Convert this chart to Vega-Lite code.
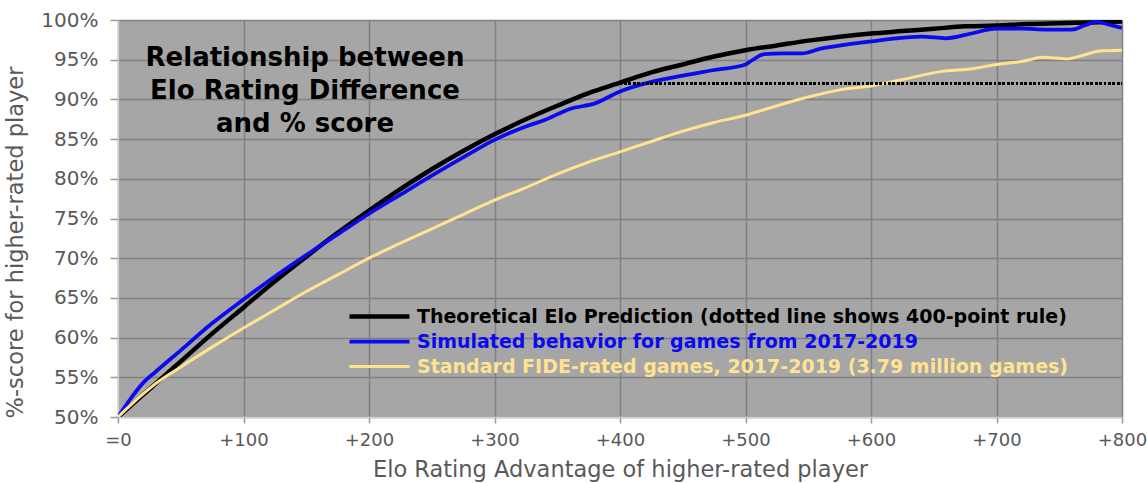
{
  "$schema": "https://vega.github.io/schema/vega-lite/v6.json",
  "width": 1004,
  "height": 397,
  "autosize": "none",
  "padding": {"left": 118, "top": 20, "right": 25, "bottom": 66},
  "background": "#ffffff",
  "config": {
    "font": "DejaVu Sans",
    "view": {"fill": "#a6a6a6", "stroke": null}
  },
  "title": {
    "text": ["Relationship between", "Elo Rating Difference", "and % score"],
    "anchor": "start",
    "frame": "group",
    "align": "center",
    "baseline": "top",
    "offset": 0,
    "dx": 187,
    "dy": 127,
    "fontSize": 26,
    "fontWeight": "bold",
    "lineHeight": 33,
    "color": "#000000",
    "font": "DejaVu Sans"
  },
  "data": {
    "values": [
      {"d": 0, "v": 0.5, "s": "T"}, {"d": 10, "v": 0.514, "s": "T"}, {"d": 25, "v": 0.535, "s": "T"}, {"d": 40, "v": 0.556, "s": "T"},
      {"d": 50, "v": 0.570, "s": "T"}, {"d": 75, "v": 0.605, "s": "T"}, {"d": 100, "v": 0.638, "s": "T"}, {"d": 125, "v": 0.671, "s": "T"},
      {"d": 150, "v": 0.702, "s": "T"}, {"d": 175, "v": 0.732, "s": "T"}, {"d": 200, "v": 0.760, "s": "T"}, {"d": 225, "v": 0.787, "s": "T"},
      {"d": 250, "v": 0.812, "s": "T"}, {"d": 275, "v": 0.835, "s": "T"}, {"d": 300, "v": 0.856, "s": "T"}, {"d": 325, "v": 0.875, "s": "T"},
      {"d": 350, "v": 0.892, "s": "T"}, {"d": 375, "v": 0.908, "s": "T"}, {"d": 400, "v": 0.921, "s": "T"}, {"d": 425, "v": 0.934, "s": "T"},
      {"d": 450, "v": 0.944, "s": "T"}, {"d": 475, "v": 0.954, "s": "T"}, {"d": 500, "v": 0.962, "s": "T"}, {"d": 525, "v": 0.968, "s": "T"},
      {"d": 550, "v": 0.974, "s": "T"}, {"d": 575, "v": 0.979, "s": "T"}, {"d": 600, "v": 0.983, "s": "T"}, {"d": 625, "v": 0.986, "s": "T"},
      {"d": 650, "v": 0.989, "s": "T"}, {"d": 675, "v": 0.992, "s": "T"}, {"d": 700, "v": 0.993, "s": "T"}, {"d": 725, "v": 0.995, "s": "T"},
      {"d": 750, "v": 0.996, "s": "T"}, {"d": 775, "v": 0.997, "s": "T"}, {"d": 800, "v": 0.998, "s": "T"},

      {"d": 0, "v": 0.5, "s": "S"}, {"d": 10, "v": 0.523, "s": "S"}, {"d": 20, "v": 0.543, "s": "S"}, {"d": 30, "v": 0.557, "s": "S"},
      {"d": 50, "v": 0.584, "s": "S"}, {"d": 75, "v": 0.618, "s": "S"}, {"d": 100, "v": 0.648, "s": "S"}, {"d": 125, "v": 0.677, "s": "S"},
      {"d": 150, "v": 0.704, "s": "S"}, {"d": 175, "v": 0.730, "s": "S"}, {"d": 200, "v": 0.756, "s": "S"}, {"d": 225, "v": 0.780, "s": "S"},
      {"d": 250, "v": 0.804, "s": "S"}, {"d": 275, "v": 0.827, "s": "S"}, {"d": 300, "v": 0.849, "s": "S"}, {"d": 325, "v": 0.866, "s": "S"},
      {"d": 340, "v": 0.874, "s": "S"}, {"d": 360, "v": 0.888, "s": "S"}, {"d": 380, "v": 0.895, "s": "S"}, {"d": 400, "v": 0.910, "s": "S"},
      {"d": 425, "v": 0.922, "s": "S"}, {"d": 450, "v": 0.930, "s": "S"}, {"d": 475, "v": 0.937, "s": "S"}, {"d": 500, "v": 0.944, "s": "S"},
      {"d": 505, "v": 0.949, "s": "S"}, {"d": 515, "v": 0.957, "s": "S"}, {"d": 530, "v": 0.958, "s": "S"}, {"d": 545, "v": 0.958, "s": "S"},
      {"d": 560, "v": 0.964, "s": "S"}, {"d": 580, "v": 0.969, "s": "S"}, {"d": 600, "v": 0.973, "s": "S"}, {"d": 620, "v": 0.977, "s": "S"},
      {"d": 640, "v": 0.979, "s": "S"}, {"d": 660, "v": 0.977, "s": "S"}, {"d": 680, "v": 0.983, "s": "S"}, {"d": 700, "v": 0.989, "s": "S"},
      {"d": 720, "v": 0.989, "s": "S"}, {"d": 740, "v": 0.988, "s": "S"}, {"d": 760, "v": 0.988, "s": "S"}, {"d": 770, "v": 0.993, "s": "S"},
      {"d": 780, "v": 0.998, "s": "S"}, {"d": 790, "v": 0.994, "s": "S"}, {"d": 800, "v": 0.990, "s": "S"},

      {"d": 0, "v": 0.5, "s": "F"}, {"d": 10, "v": 0.515, "s": "F"}, {"d": 20, "v": 0.529, "s": "F"}, {"d": 30, "v": 0.542, "s": "F"},
      {"d": 50, "v": 0.563, "s": "F"}, {"d": 75, "v": 0.588, "s": "F"}, {"d": 100, "v": 0.612, "s": "F"}, {"d": 125, "v": 0.635, "s": "F"},
      {"d": 150, "v": 0.658, "s": "F"}, {"d": 175, "v": 0.679, "s": "F"}, {"d": 200, "v": 0.700, "s": "F"}, {"d": 225, "v": 0.719, "s": "F"},
      {"d": 250, "v": 0.737, "s": "F"}, {"d": 275, "v": 0.755, "s": "F"}, {"d": 300, "v": 0.773, "s": "F"}, {"d": 325, "v": 0.789, "s": "F"},
      {"d": 350, "v": 0.806, "s": "F"}, {"d": 375, "v": 0.821, "s": "F"}, {"d": 400, "v": 0.834, "s": "F"}, {"d": 425, "v": 0.847, "s": "F"},
      {"d": 450, "v": 0.860, "s": "F"}, {"d": 475, "v": 0.871, "s": "F"}, {"d": 500, "v": 0.880, "s": "F"}, {"d": 525, "v": 0.892, "s": "F"},
      {"d": 550, "v": 0.903, "s": "F"}, {"d": 575, "v": 0.912, "s": "F"}, {"d": 600, "v": 0.917, "s": "F"}, {"d": 628, "v": 0.926, "s": "F"},
      {"d": 655, "v": 0.935, "s": "F"}, {"d": 682, "v": 0.939, "s": "F"}, {"d": 700, "v": 0.944, "s": "F"}, {"d": 721, "v": 0.948, "s": "F"},
      {"d": 737, "v": 0.953, "s": "F"}, {"d": 756, "v": 0.951, "s": "F"}, {"d": 770, "v": 0.956, "s": "F"}, {"d": 782, "v": 0.961, "s": "F"},
      {"d": 800, "v": 0.962, "s": "F"}
    ]
  },
  "layer": [
    {
      "mark": {"type": "line", "interpolate": "monotone", "clip": true},
      "encoding": {
        "x": {
          "field": "d", "type": "quantitative",
          "scale": {"domain": [0, 800], "nice": false},
          "axis": {
            "values": [0, 100, 200, 300, 400, 500, 600, 700, 800],
            "tickCount": 20,
            "labelExpr": "datum.value === 0 ? '=0' : '+' + datum.value",
            "title": "Elo Rating Advantage of higher-rated player",
            "titleFontSize": 22.5, "titleFontWeight": "normal", "titleColor": "#595959", "titlePadding": 9,
            "labelFontSize": 18, "labelColor": "#595959", "labelPadding": 8, "labelFlush": false, "labelOverlap": false,
            "tickSize": 6, "tickColor": "#9a9a9a", "tickWidth": 1.5,
            "domainColor": "#d0d0d0", "domainWidth": 1.5,
            "grid": true, "gridColor": "#808080", "gridWidth": 1.5
          }
        },
        "y": {
          "field": "v", "type": "quantitative",
          "scale": {"domain": [0.5, 1], "nice": false},
          "axis": {
            "values": [0.5, 0.55, 0.6, 0.65, 0.7, 0.75, 0.8, 0.85, 0.9, 0.95, 1],
            "tickCount": 20,
            "format": ".0%",
            "title": "%-score for higher-rated player",
            "titleFontSize": 22.5, "titleFontWeight": "normal", "titleColor": "#595959",
            "titleX": -91, "titleY": 222,
            "labelFontSize": 20, "labelColor": "#595959", "labelPadding": 12, "labelFlush": false, "labelOverlap": false,
            "tickSize": 8, "tickColor": "#9a9a9a", "tickWidth": 1.5,
            "domainColor": "#d0d0d0", "domainWidth": 1.5,
            "grid": true, "gridColor": "#808080", "gridWidth": 1.5
          }
        },
        "color": {
          "field": "s", "type": "nominal",
          "scale": {"domain": ["T", "S", "F"], "range": ["#000000", "#0a0aee", "#ffe391"]},
          "legend": {
            "orient": "none",
            "legendX": 252,
            "legendY": 287,
            "title": null,
            "padding": 0,
            "symbolType": "M-6,0H6",
            "symbolSize": 100,
            "labelOffset": 28,
            "rowPadding": 5,
            "labelFontSize": 19,
            "labelFontWeight": "bold",
            "labelFont": "DejaVu Sans",
            "labelLimit": 1000,
            "labelExpr": "datum.value === 'T' ? 'Theoretical Elo Prediction (dotted line shows 400-point rule)' : datum.value === 'S' ? 'Simulated behavior for games from 2017-2019' : 'Standard FIDE-rated games, 2017-2019 (3.79 million games)'",
            "encode": {
              "labels": {"update": {"fill": {"signal": "scale('color', datum.value)"}}},
              "symbols": {"update": {"strokeWidth": {"signal": "datum.value === 'T' ? 5 : 3"}, "fill": {"value": "transparent"}}}
            }
          }
        },
        "strokeWidth": {
          "field": "s", "type": "nominal",
          "scale": {"domain": ["T", "S", "F"], "range": [4.5, 3, 3]},
          "legend": null
        }
      }
    },
    {
      "mark": {"type": "rule", "color": "#000000", "strokeWidth": 2.5, "strokeDash": [2, 2.4]},
      "encoding": {
        "x": {"datum": 400, "type": "quantitative"},
        "x2": {"datum": 800},
        "y": {"datum": 0.92, "type": "quantitative"}
      }
    }
  ]
}
